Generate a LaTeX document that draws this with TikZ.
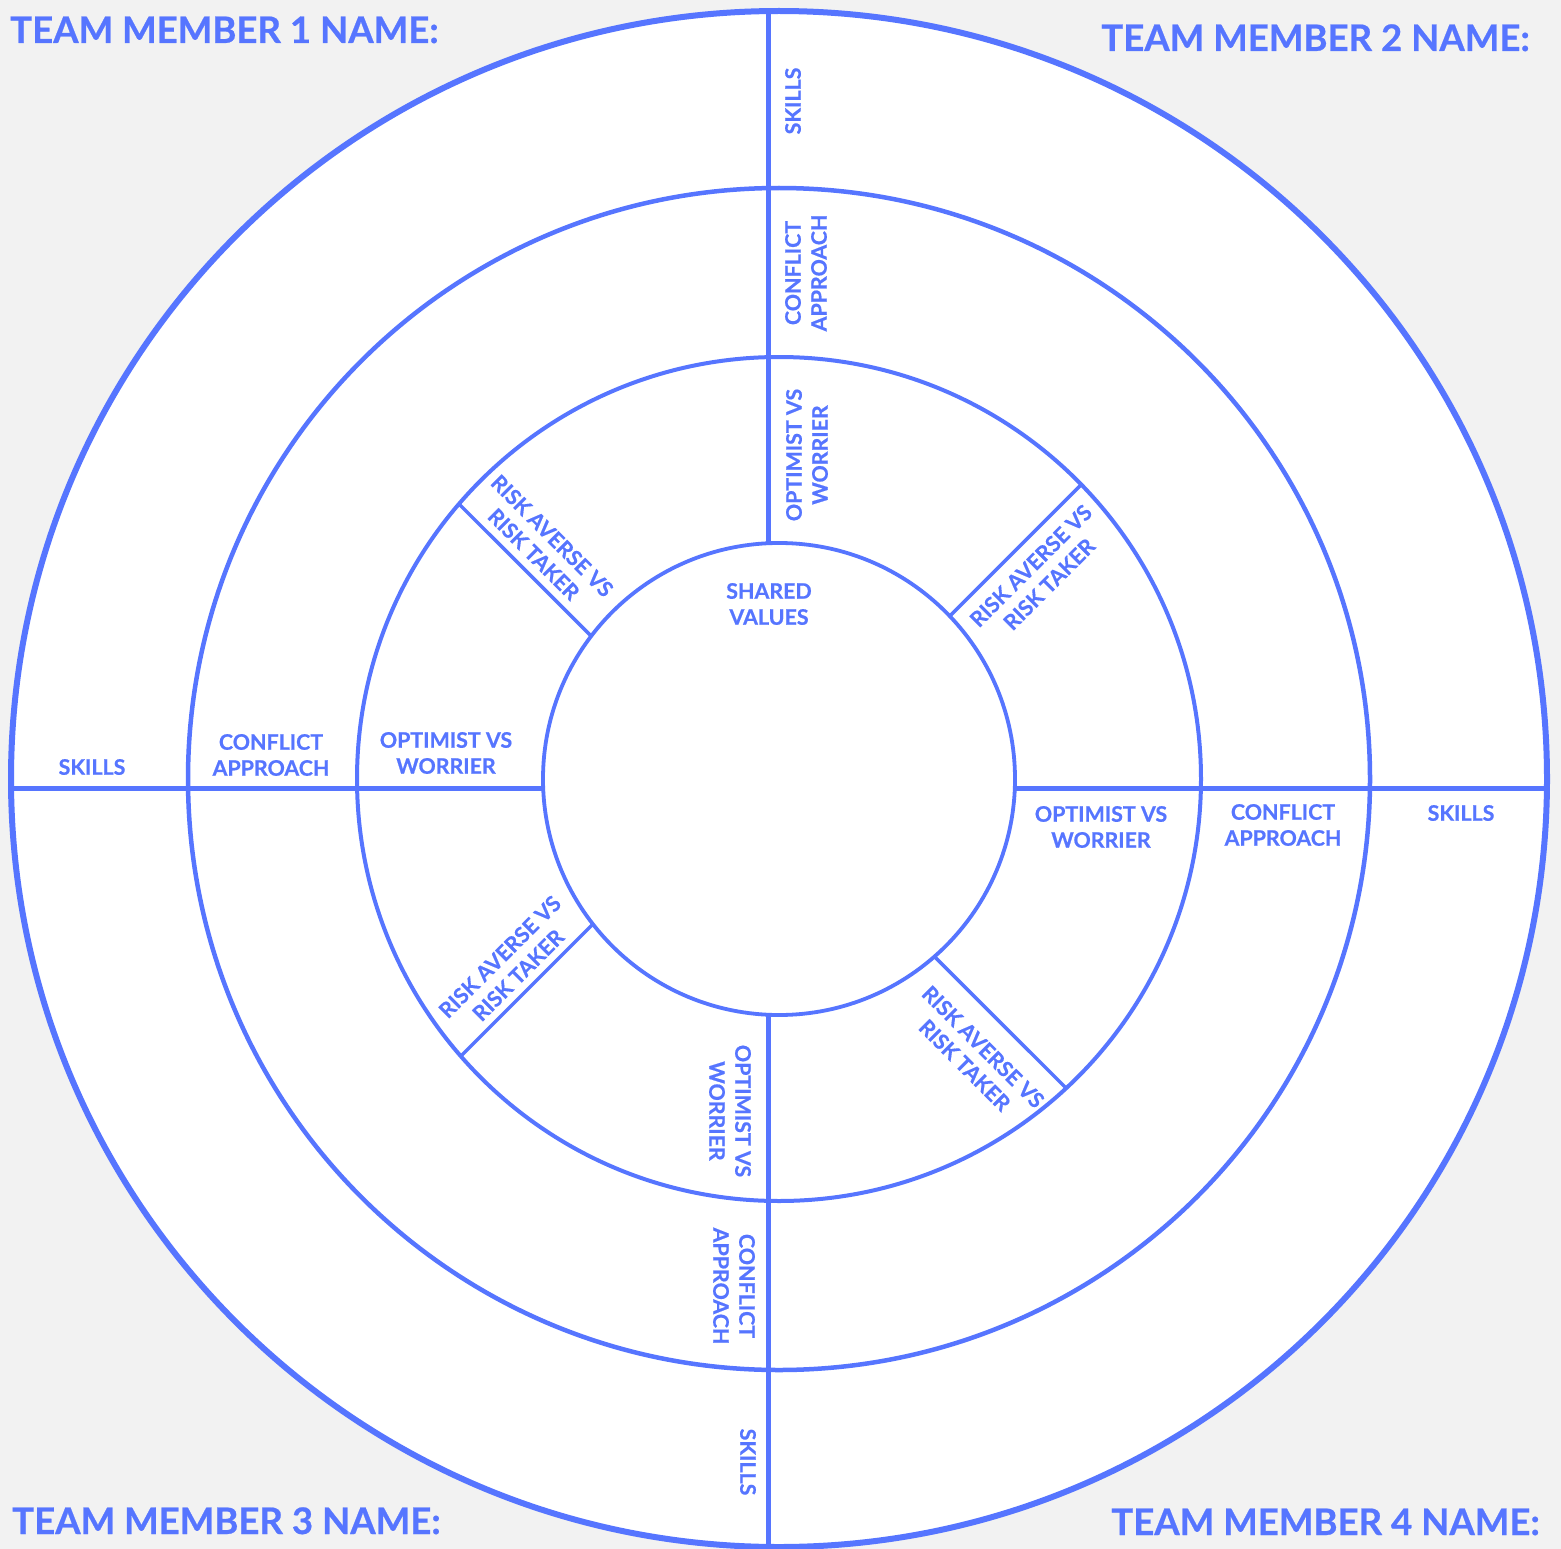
\documentclass[tikz,border=0pt]{standalone}
\usepackage{fontspec}
\setmainfont{Lato}[BoldFont={Lato Bold},BoldFeatures={FakeBold=0.6}]
\definecolor{ink}{RGB}{86,117,255}
\definecolor{bg}{RGB}{242,242,242}
\begin{document}
\begin{tikzpicture}[x=1pt,y=-1pt,
  lbl/.style={text=ink, font=\fontsize{21.4}{26}\selectfont\bfseries, align=center, inner sep=0pt},
  ttl/.style={text=ink, font=\fontsize{36.6}{42}\selectfont\bfseries, inner sep=0pt},
  ring/.style={draw=ink},
  divider/.style={draw=ink, line width=5pt},
  spoke/.style={draw=ink, line width=3.5pt}]
\fill[bg] (0,0) rectangle (1561,1549);
\useasboundingbox (0,0) rectangle (1561,1549);
\coordinate (C) at (779,779);
% rings
\fill[white] (C) circle[radius=768pt];
\draw[ring, line width=4.5pt] (C) circle[radius=591pt];
\draw[ring, line width=4pt] (C) circle[radius=422pt];
\draw[ring, line width=3.8pt] (C) circle[radius=236pt];
\draw[ring, line width=6pt] (C) circle[radius=768pt];
% main dividers
\coordinate (vT1) at (768,11.1);
\coordinate (vT2) at (768,543.3);
\coordinate (vB1) at (768,1014.7);
\coordinate (vB2) at (768,1546.9);
\coordinate (hL1) at (11.1,788);
\coordinate (hL2) at (543.2,788);
\coordinate (hR1) at (1014.8,788);
\coordinate (hR2) at (1546.9,788);
\draw[divider] (vT1) -- (vT2);
\draw[divider] (vB1) -- (vB2);
\draw[divider] (hL1) -- (hL2);
\draw[divider] (hR1) -- (hR2);
% diagonal spokes in third ring
\coordinate (ul1) at (459,504);
\coordinate (ul2) at (591.2,636.1);
\coordinate (ur1) at (1081.3,484.6);
\coordinate (ur2) at (949.8,616.1);
\coordinate (ll1) at (592.9,924.1);
\coordinate (ll2) at (460.8,1056.2);
\coordinate (lr1) at (934.5,956.6);
\coordinate (lr2) at (1066.2,1088.2);
\draw[spoke] (ul1) -- (ul2);
\draw[spoke] (ur1) -- (ur2);
\draw[spoke] (ll1) -- (ll2);
\draw[spoke] (lr1) -- (lr2);
% titles
\node[ttl, anchor=base west] (tm1) at (10,43) {TEAM MEMBER 1 NAME:};
\node[ttl, anchor=base east] (tm2) at (1530,51) {TEAM MEMBER 2 NAME:};
\node[ttl, anchor=base west] (tm3) at (12,1534) {TEAM MEMBER 3 NAME:};
\node[ttl, anchor=base east] (tm4) at (1540,1535) {TEAM MEMBER 4 NAME:};
% labels top
\node[lbl, rotate=90] (skT) at (793,101) {SKILLS};
\node[lbl, rotate=90] (caT) at (806,273) {CONFLICT\\APPROACH};
\node[lbl, rotate=90] (owT) at (807,455) {OPTIMIST VS\\WORRIER};
\node[lbl] (sv) at (769,604) {SHARED\\VALUES};
\node[lbl, rotate=-45] (rUL) at (543,545) {RISK AVERSE VS\\RISK TAKER};
\node[lbl, rotate=45] (rUR) at (1040,575) {RISK AVERSE VS\\RISK TAKER};
% labels left
\node[lbl] (skL) at (92,767) {SKILLS};
\node[lbl] (caL) at (271,755) {CONFLICT\\APPROACH};
\node[lbl] (owL) at (446,753) {OPTIMIST VS\\WORRIER};
% labels right
\node[lbl] (owR) at (1101,827) {OPTIMIST VS\\WORRIER};
\node[lbl] (caR) at (1283,825) {CONFLICT\\APPROACH};
\node[lbl] (skR) at (1461,813) {SKILLS};
% labels bottom
\node[lbl, rotate=45] (rLL) at (509,966) {RISK AVERSE VS\\RISK TAKER};
\node[lbl, rotate=-45] (rLR) at (974,1056) {RISK AVERSE VS\\RISK TAKER};
\node[lbl, rotate=-90] (owB) at (730,1111) {OPTIMIST VS\\WORRIER};
\node[lbl, rotate=-90] (caB) at (734,1286) {CONFLICT\\APPROACH};
\node[lbl, rotate=-90] (skB) at (748,1462) {SKILLS};
\end{tikzpicture}
\end{document}
